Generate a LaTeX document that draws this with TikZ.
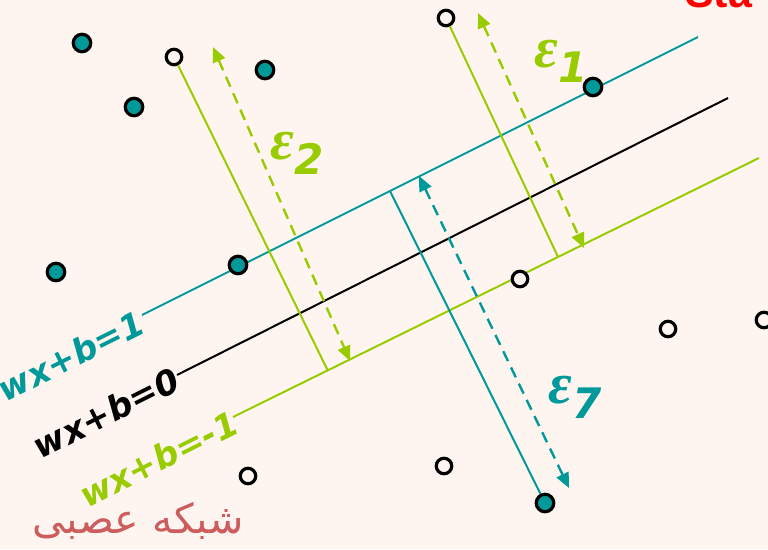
\documentclass[tikz,border=0pt]{standalone}
\usepackage{fontspec}
\usepackage{xcolor}
\usepackage{tikz}
\usetikzlibrary{arrows.meta, positioning}

\newfontfamily\eqfont{DejaVu Sans}
\newfontfamily\epsfont{Liberation Serif}
\newfontfamily\titlefont{Liberation Sans}
\newfontfamily\arabicfont[Script=Arabic]{DejaVu Sans}
\TeXXeTstate=1

\definecolor{bgpaper}{RGB}{255,245,240}
\definecolor{svteal}{RGB}{0,153,153}
\definecolor{svgreen}{RGB}{153,204,0}
\definecolor{faname}{RGB}{205,92,92}

% slack symbol with its index
\newcommand{\slackname}[1]{{\epsfont\fontsize{58}{58}\selectfont ε}%
  \raisebox{-15pt}{\eqfont\fontsize{42}{42}\selectfont #1}}

\begin{document}
\begin{tikzpicture}[
    x=1pt, y=-1pt,
    posdot/.style={circle, draw=black, line width=3.2pt, fill=svteal,
                minimum size=17.5pt, inner sep=0pt},
    negdot/.style={circle, draw=black, line width=3.2pt, fill=bgpaper,
                minimum size=15.5pt, inner sep=0pt},
    margin/.style={line width=2pt},
    slack/.style={line width=2pt},
    gap/.style={line width=2.4pt, dash pattern=on 11pt off 7pt,
                {Triangle[length=15pt,width=13pt]}-{Triangle[length=15pt,width=13pt]}},
    eqlabel/.style={font=\eqfont\bfseries\itshape\fontsize{34}{34}\selectfont,
                    rotate=26.57, inner sep=0pt, anchor=east},
    epslabel/.style={font=\bfseries\itshape, inner sep=0pt},
]

% Paper
\fill[bgpaper] (0,0) rectangle (768,549);
\useasboundingbox (0,0) rectangle (768,549);
\clip (0,0) rectangle (768,549);

% Title (cut at the top)
\node[anchor=base west, inner sep=0pt, text=red,
      font=\titlefont\bfseries\fontsize{43}{43}\selectfont] (title) at (685,7) {Sta};

% Margin lines
\coordinate (t1) at (142,315);  \coordinate (t2) at (698,37);
\coordinate (h1) at (177,375);  \coordinate (h2) at (728,98);
\coordinate (g1) at (233,417);  \coordinate (g2) at (759,158);
\draw[margin, svteal] (t1) -- (t2);
\draw[margin, black] (h1) -- (h2);
\draw[margin, svgreen] (g1) -- (g2);

% Line labels
\node[eqlabel, text=svteal] (lbl1) at (142,320) {wx+b=1};
\node[eqlabel, text=black] (lbl0) at (177,377) {wx+b=0};
\node[eqlabel, text=svgreen] (lblm) at (236,420) {wx+b=-1};

% Feet of the slack lines
\coordinate (f2) at (328,371);
\coordinate (f1) at (558,257);
\coordinate (f7) at (390,191);

% Slack lines
\node[negdot] (n2) at (174,57) {};
\node[negdot] (n1) at (446,18) {};
\node[posdot] (p7) at (545,503) {};
\draw[slack, svgreen] (n2) -- (f2);
\draw[slack, svgreen] (n1) -- (f1);
\draw[slack, svteal] (f7) -- (p7);

% Slack arrows
\coordinate (a2) at (213,47);  \coordinate (b2) at (350,361);
\coordinate (a1) at (478,13);  \coordinate (b1) at (584,248);
\coordinate (a7) at (419,176); \coordinate (b7) at (569,488);
\draw[gap, svgreen] (a2) -- (b2);
\draw[gap, svgreen] (a1) -- (b1);
\draw[gap, svteal] (a7) -- (b7);

% Slack labels
\node[epslabel, text=svgreen] (e2) at (297,153) {\slackname{2}};
\node[epslabel, text=svgreen] (e1) at (561,61) {\slackname{1}};
\node[epslabel, text=svteal] (e7) at (575,397) {\slackname{7}};

% Positive points
\node[posdot] (p1) at (82,43) {};
\node[posdot] (p2) at (134,107) {};
\node[posdot] (p3) at (265,70) {};
\node[posdot] (p4) at (56,272) {};
\node[posdot] (p5) at (238,265) {};
\node[posdot] (p6) at (593,87) {};

% Negative points
\node[negdot] (n3) at (520,279) {};
\node[negdot] (n4) at (668,329) {};
\node[negdot] (n5) at (764,320) {};
\node[negdot] (n6) at (248,476) {};
\node[negdot] (n7) at (444,466) {};

% Persian caption
\node[text=faname, font=\arabicfont\fontsize{41}{41}\selectfont] (fa) at (138,521)
     {\beginR شبکه عصبی\endR};

\end{tikzpicture}
\end{document}
